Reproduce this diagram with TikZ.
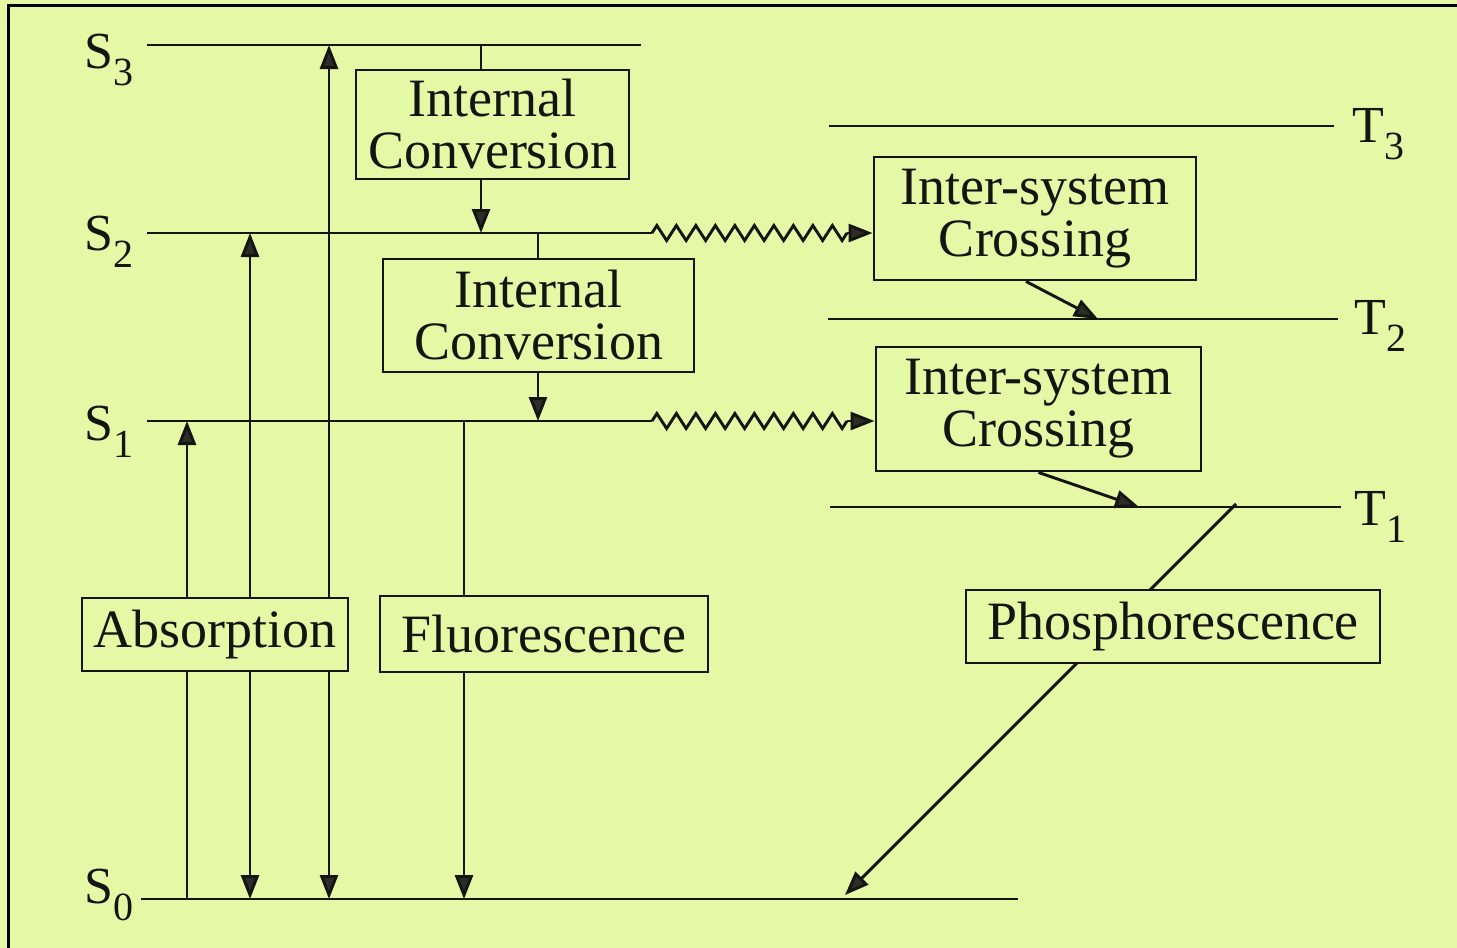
\documentclass[tikz,border=0pt]{standalone}
\usepackage{fontspec}
\setmainfont{Liberation Serif}
\usetikzlibrary{arrows.meta,calc}
\definecolor{paper}{RGB}{229,248,165}
\definecolor{ink}{RGB}{20,20,16}
\definecolor{tipfill}{RGB}{45,45,40}
% state name with a large, lowered index
\newcommand\lvlname[2]{#1\raisebox{-8.5pt}{\fontsize{20pt}{20pt}\selectfont #2}}

\begin{document}
\begin{tikzpicture}[x=0.5pt,y=-0.5pt,
  every node/.style={font=\fontsize{27pt}{26pt}\selectfont, text=ink},
  level/.style={line width=1.45pt, draw=ink, line join=miter},
  proc/.style={draw=ink, line width=1.45pt, fill=paper, align=center, inner sep=0pt},
  tip/.style={-{Triangle[length=12pt,width=9pt,fill=tipfill]}},
  twotips/.style={{Triangle[length=12pt,width=9pt,fill=tipfill]}-{Triangle[length=12pt,width=9pt,fill=tipfill]}},
  lbl/.style={font=\fontsize{26pt}{26pt}\selectfont, inner sep=0pt}
]
% sheet and its frame
\fill[paper] (0,0) rectangle (1457,948);
\useasboundingbox (0,0) rectangle (1457,948);
\draw[line width=1.5pt, black] (8,948) -- (8,5) -- (1457,5);

% singlet levels
\coordinate (s3a) at (147,45);  \coordinate (s3b) at (641,45);
\coordinate (s2a) at (147,233); \coordinate (s2b) at (652,233);
\coordinate (s1a) at (147,421); \coordinate (s1b) at (652,421);
\coordinate (s0a) at (141,899); \coordinate (s0b) at (1018,899);
% triplet levels
\coordinate (t3a) at (829,126); \coordinate (t3b) at (1334,126);
\coordinate (t2a) at (828,319); \coordinate (t2b) at (1338,319);
\coordinate (t1a) at (830,507); \coordinate (t1b) at (1341,507);

\draw[level] (s3a) -- (s3b);
\draw[level] (s2a) -- (s2b);
\draw[level] (s1a) -- (s1b);
\draw[level] (s0a) -- (s0b);
\draw[level] (t3a) -- (t3b);
\draw[level] (t2a) -- (t2b);
\draw[level] (t1a) -- (t1b);

% level names
\node[lbl, anchor=base east] (S3) at (134,68)  {\lvlname{S}{3}};
\node[lbl, anchor=base east] (S2) at (134,250) {\lvlname{S}{2}};
\node[lbl, anchor=base east] (S1) at (134,440) {\lvlname{S}{1}};
\node[lbl, anchor=base east] (S0) at (134,903) {\lvlname{S}{0}};
\node[lbl, anchor=base west] (T3) at (1352,142) {\lvlname{T}{3}};
\node[lbl, anchor=base west] (T2) at (1354,334) {\lvlname{T}{2}};
\node[lbl, anchor=base west] (T1) at (1354,525) {\lvlname{T}{1}};

% process boxes
\node[proc, minimum width=136.5pt, minimum height=54.5pt] (ic1) at (492.5,124.5) {Internal\\Conversion};
\node[proc, minimum width=155.5pt, minimum height=56.5pt] (ic2) at (538.5,315.5) {Internal\\Conversion};
\node[proc, minimum width=161pt, minimum height=61.5pt] (isc1) at (1035,218.5) {Inter-system\\Crossing};
\node[proc, minimum width=162.5pt, minimum height=62pt] (isc2) at (1038.5,409) {Inter-system\\Crossing};

% vertical transition columns
\coordinate (xA) at (187,0);
\coordinate (xB) at (250,0);
\coordinate (xC) at (329,0);
\coordinate (xF) at (464,0);
\coordinate (xI) at (481,0);
\coordinate (xJ) at (538,0);

% absorption and emission
\draw[level, tip] (xA |- s0a) -- (xA |- s1a);
\draw[level, twotips] (xB |- s0a) -- (xB |- s2a);
\draw[level, twotips] (xC |- s0a) -- (xC |- s3a);
\draw[level, tip] (xF |- s1a) -- (xF |- s0a);

% internal conversion
\draw[level] (xI |- s3a) -- (xI |- ic1.north);
\draw[level, tip] (xI |- ic1.south) -- (xI |- s2a);
\draw[level] (xJ |- s2a) -- (xJ |- ic2.north);
\draw[level, tip] (xJ |- ic2.south) -- (xJ |- s1a);

% inter-system crossing: ten-tooth zigzag, then a short arrow into the box
\coordinate (w2) at (847,233);
\coordinate (w1) at (847,421);
\draw[level] (s2b) \foreach \k in {1,...,10} { -- ++(4.875,-7.5) -- ++(9.75,15) -- ++(4.875,-7.5) };
\draw[level, tip] (w2) -- (isc1.west |- w2);
\draw[level] (s1b) \foreach \k in {1,...,10} { -- ++(4.875,-7.5) -- ++(9.75,15) -- ++(4.875,-7.5) };
\draw[level, tip] (w1) -- (isc2.west |- w1);

\coordinate (h2) at (1098,319);
\coordinate (h1) at (1139,507);
\draw[level, tip] ([xshift=-4.5pt]isc1.south) -- (h2);
\draw[level, tip] (isc2.south) -- (h1);

% phosphorescence
\coordinate (ph1) at (1236,504);
\coordinate (ph0) at (845,895);
\draw[level, tip] (ph1) -- (ph0);

% emission / absorption labels
\node[proc, minimum width=133pt, minimum height=36.5pt] (abs) at (215,634.5) {Absorption};
\node[proc, minimum width=164pt, minimum height=38pt] (flu) at (544,634) {Fluorescence};
\node[proc, minimum width=207pt, minimum height=36.5pt] (pho) at (1173,626.5) {Phosphorescence};
\end{tikzpicture}
\end{document}
